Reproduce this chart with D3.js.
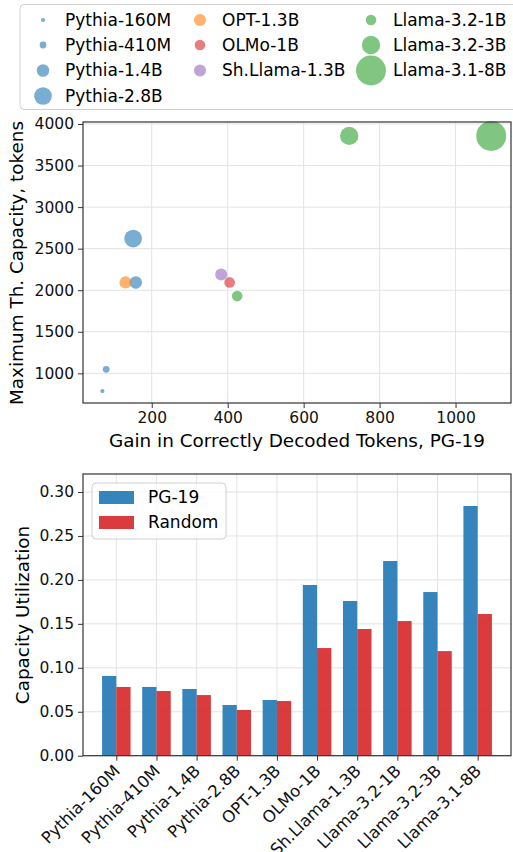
<!DOCTYPE html>
<html>
<head>
<meta charset="utf-8">
<script src="https://cdn.jsdelivr.net/npm/d3@7"></script>
<style>
  body { margin: 0; background: #fff; }
  svg { font-family: "DejaVu Sans", sans-serif; display: block; }
  .grid line { stroke: #e3e3e3; stroke-width: 1; }
  .axis path, .axis line { stroke: #333; }
  .axis text { font-family: "DejaVu Sans", sans-serif; font-size: 15.5px; fill: #111; }
  .axis.cats text { font-size: 16.5px; }
  .label { font-size: 18.4px; }
</style>
</head>
<body>
<svg id="fig" width="513" height="852"></svg>
<script>
// scatter data
const models = ["Pythia-160M", "Pythia-410M", "Pythia-1.4B", "Pythia-2.8B", "OPT-1.3B",
  "OLMo-1B", "Sh.Llama-1.3B", "Llama-3.2-1B", "Llama-3.2-3B", "Llama-3.1-8B"];
const family = ["pythia", "pythia", "pythia", "pythia", "opt", "olmo", "shllama", "llama", "llama", "llama"];
const params = [0.16, 0.41, 1.4, 2.8, 1.3, 1.0, 1.3, 1.0, 3.0, 8.0];
const gain = [70, 80, 158, 151, 131, 405, 383, 425, 720, 1094];
const capacity = [787, 1048, 2094, 2622, 2094, 2094, 2190, 1929, 3857, 3857];
const xTicks = [200, 400, 600, 800, 1000];
const yTicks = [1000, 1500, 2000, 2500, 3000, 3500, 4000];

// bar data
const pg19 = [0.0907, 0.0782, 0.0759, 0.0577, 0.0634, 0.1942, 0.1760, 0.2215, 0.1862, 0.2841];
const random = [0.0782, 0.0736, 0.0690, 0.0520, 0.0622, 0.1225, 0.1441, 0.1532, 0.1190, 0.1612];
const barTicks = [0, 0.05, 0.10, 0.15, 0.20, 0.25, 0.30];

const colors = {
  pythia: "#1f77b4", opt: "#ff7f0e", olmo: "#d62728", shllama: "#9467bd", llama: "#2ca02c"
};

const svg = d3.select("#fig");

// ---------- top scatter ----------
const sc = { left: 83, right: 511, top: 122, bottom: 403 };
const x = d3.scaleLinear().domain([19, 1146]).range([sc.left, sc.right]);
const y = d3.scaleLinear().domain([643, 4024]).range([sc.bottom, sc.top]);
const r = d3.scaleSqrt().domain([0, 8]).range([0, 15]);

const g1 = svg.append("g");

g1.append("g").attr("class", "grid")
  .selectAll("line.v").data(xTicks).join("line")
  .attr("x1", d => x(d)).attr("x2", d => x(d))
  .attr("y1", sc.top).attr("y2", sc.bottom);
g1.select(".grid")
  .selectAll("line.h").data(yTicks).join("line").attr("class", "h")
  .attr("x1", sc.left).attr("x2", sc.right)
  .attr("y1", d => y(d)).attr("y2", d => y(d));

g1.selectAll("circle.pt").data(models).join("circle")
  .attr("class", "pt")
  .attr("cx", (d, i) => x(gain[i]))
  .attr("cy", (d, i) => y(capacity[i]))
  .attr("r", (d, i) => r(params[i]))
  .attr("fill", (d, i) => colors[family[i]])
  .attr("fill-opacity", 0.6);

g1.append("rect")
  .attr("x", sc.left).attr("y", sc.top)
  .attr("width", sc.right - sc.left).attr("height", sc.bottom - sc.top)
  .attr("fill", "none").attr("stroke", "#333").attr("stroke-width", 1.2);

g1.append("g").attr("class", "axis")
  .attr("transform", `translate(0,${sc.bottom})`)
  .call(d3.axisBottom(x).tickValues(xTicks).tickFormat(d3.format("d")).tickSize(5).tickPadding(4))
  .call(g => g.select(".domain").remove());

g1.append("g").attr("class", "axis")
  .attr("transform", `translate(${sc.left},0)`)
  .call(d3.axisLeft(y).tickValues(yTicks).tickFormat(d3.format("d")).tickSize(5).tickPadding(4))
  .call(g => g.select(".domain").remove());

g1.append("text")
  .attr("class", "label")
  .text("Gain in Correctly Decoded Tokens, PG-19")
  .attr("x", (sc.left + sc.right) / 2)
  .attr("y", 447)
  .style("text-anchor", "middle");

g1.append("text")
  .attr("class", "label")
  .text("Maximum Th. Capacity, tokens")
  .attr("transform", "translate(22.5,263) rotate(-90)")
  .style("text-anchor", "middle");

// legend (top)
const leg = svg.append("g");
leg.append("rect")
  .attr("x", 20).attr("y", 4.5)
  .attr("width", 520).attr("height", 105)
  .attr("rx", 4)
  .attr("fill", "#fff").attr("fill-opacity", 0.8)
  .attr("stroke", "#d0d0d0");

const colX = [43, 200, 371];
const rowY = [20, 45, 70.5, 96];
const legPos = [[0, 0], [0, 1], [0, 2], [0, 3], [1, 0], [1, 1], [1, 2], [2, 0], [2, 1], [2, 2]];

const items = leg.selectAll("g.item").data(models).join("g")
  .attr("class", "item")
  .attr("transform", (d, i) => `translate(${colX[legPos[i][0]]},${rowY[legPos[i][1]]})`);
items.append("circle")
  .attr("r", (d, i) => r(params[i]))
  .attr("fill", (d, i) => colors[family[i]])
  .attr("fill-opacity", 0.6);
items.append("text")
  .text(d => d)
  .attr("x", 22)
  .attr("dy", "0.35em")
  .style("font-size", "17px");

// ---------- bottom bars ----------
const bot = { left: 83, right: 511, top: 474, bottom: 755.7 };
const xb = d3.scalePoint().domain(models).range([bot.left, bot.right]).padding(0.83);
const yb = d3.scaleLinear().domain([0, 0.3205]).range([bot.bottom, bot.top]);
const bw = xb.step() * 0.355;

const g2 = svg.append("g");

g2.append("g").attr("class", "grid")
  .selectAll("line.v").data(models).join("line")
  .attr("x1", d => xb(d)).attr("x2", d => xb(d))
  .attr("y1", bot.top).attr("y2", bot.bottom);
g2.select(".grid")
  .selectAll("line.h").data(barTicks).join("line").attr("class", "h")
  .attr("x1", bot.left).attr("x2", bot.right)
  .attr("y1", d => yb(d)).attr("y2", d => yb(d));

g2.selectAll("rect.pg").data(models).join("rect")
  .attr("class", "pg")
  .attr("x", d => xb(d) - bw)
  .attr("y", (d, i) => yb(pg19[i]))
  .attr("width", bw)
  .attr("height", (d, i) => yb(0) - yb(pg19[i]))
  .attr("fill", "#1f77b4").attr("fill-opacity", 0.9);

g2.selectAll("rect.rnd").data(models).join("rect")
  .attr("class", "rnd")
  .attr("x", d => xb(d))
  .attr("y", (d, i) => yb(random[i]))
  .attr("width", bw)
  .attr("height", (d, i) => yb(0) - yb(random[i]))
  .attr("fill", "#d62728").attr("fill-opacity", 0.9);

g2.append("rect")
  .attr("x", bot.left).attr("y", bot.top)
  .attr("width", bot.right - bot.left).attr("height", bot.bottom - bot.top)
  .attr("fill", "none").attr("stroke", "#333").attr("stroke-width", 1.2);

g2.append("g").attr("class", "axis")
  .attr("transform", `translate(${bot.left},0)`)
  .call(d3.axisLeft(yb).tickValues(barTicks).tickFormat(d3.format(".2f")).tickSize(5).tickPadding(4))
  .call(g => g.select(".domain").remove());

g2.append("g").attr("class", "axis cats")
  .attr("transform", `translate(0,${bot.bottom})`)
  .call(d3.axisBottom(xb).tickSize(5).tickPadding(4))
  .call(g => g.select(".domain").remove())
  .selectAll("text")
  .attr("y", 0).attr("dy", 0)
  .attr("transform", "translate(1,13) rotate(-45)")
  .style("text-anchor", "end")
  .attr("dominant-baseline", "middle");

g2.append("text")
  .attr("class", "label")
  .text("Capacity Utilization")
  .attr("transform", "translate(28.5,615) rotate(-90)")
  .style("text-anchor", "middle");

// legend (bottom)
const leg2 = svg.append("g").attr("transform", "translate(92,483)");
leg2.append("rect")
  .attr("width", 134).attr("height", 56).attr("rx", 4)
  .attr("fill", "#fff").attr("fill-opacity", 0.8)
  .attr("stroke", "#d0d0d0");
const series = [["PG-19", "#1f77b4"], ["Random", "#d62728"]];
const li = leg2.selectAll("g.s").data(series).join("g")
  .attr("class", "s")
  .attr("transform", (d, i) => `translate(7,${8 + i * 25})`);
li.append("rect").attr("width", 35).attr("height", 13)
  .attr("fill", d => d[1]).attr("fill-opacity", 0.9);
li.append("text").text(d => d[0])
  .attr("x", 49).attr("y", 6.5).attr("dy", "0.35em")
  .style("font-size", "17px");
</script>
</body>
</html>
